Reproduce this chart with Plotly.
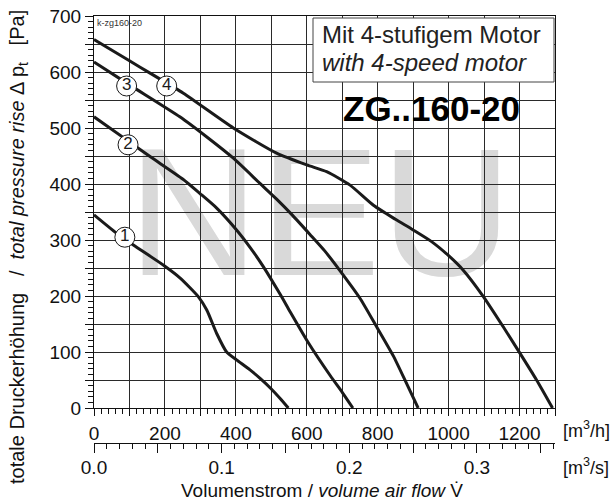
import plotly.graph_objects as go

# ---------------- data ----------------
flow_1 = [0, 64, 111, 198, 243, 294, 318, 346, 374, 402, 440, 470, 500, 525, 548]
press_1 = [345, 312, 291, 254, 232, 199, 175, 133, 100, 86, 68, 52, 34, 17, 0]

flow_2 = [0, 96, 158, 250, 299, 346, 402, 440, 477, 525, 553, 604, 666, 700, 730]
press_2 = [520, 477, 449, 409, 383, 357, 318, 287, 253, 203, 172, 117, 58, 28, 0]

flow_3 = [0, 100, 242, 320, 393, 468, 515, 560, 609, 650, 694, 750, 797, 844, 882, 914]
press_3 = [618, 577, 520, 483, 446, 401, 373, 344, 310, 281, 245, 196, 145, 93, 43, 0]

flow_4 = [0, 100, 158, 252, 393, 515, 600, 656, 722, 788, 850, 900, 950, 1000, 1040,
          1098, 1154, 1201, 1248, 1293]
press_4 = [658, 620, 598, 562, 500, 455, 434, 422, 398, 362, 337, 318, 298, 272, 247,
           199, 145, 98, 50, 0]

curve_names = ["1", "2", "3", "4"]
label_flow = [87, 96, 92, 205]
label_press = [305, 470, 575, 575]

x_tickvals = list(range(0, 1301, 100))
x_ticktext = [str(v) if v % 200 == 0 and v <= 1200 else "" for v in x_tickvals]
y_tickvals = list(range(0, 701, 50))
y_ticktext = [str(v) if v % 100 == 0 else "" for v in y_tickvals]
x2_tickvals = [0.0, 0.05, 0.1, 0.15, 0.2, 0.25, 0.3, 0.35]
x2_ticktext = ["0.0", "", "0.1", "", "0.2", "", "0.3", ""]

X_MAX = 1300
Y_MAX = 700

# ---------------- layout geometry ----------------
W, H = 613, 502
L, R, T, B = 94, 58, 16, 0
PW, PH = W - L - R, H - T - B


def px(xp):
    return (xp - L) / PW


def py(yp):
    return (H - B - yp) / PH


FONT = "Liberation Sans, Arial, sans-serif"
INK = "#1a1a1a"

fig = go.Figure()

for fx, fy in [(flow_1, press_1), (flow_2, press_2), (flow_3, press_3), (flow_4, press_4)]:
    fig.add_trace(go.Scatter(
        x=fx, y=fy, mode="lines",
        line=dict(color=INK, width=3, shape="spline", smoothing=0.6),
        hoverinfo="skip", showlegend=False))

fig.add_trace(go.Scatter(
    x=label_flow, y=label_press, mode="markers+text",
    marker=dict(size=20, color="white", line=dict(color=INK, width=1)),
    text=curve_names, textposition="middle center",
    textfont=dict(family=FONT, size=17, color=INK),
    hoverinfo="skip", showlegend=False))

# dummy trace so that the m3/s axis exists
fig.add_trace(go.Scatter(x=[], y=[], xaxis="x2", yaxis="y", showlegend=False,
                         hoverinfo="skip"))

fig.update_layout(
    width=W, height=H,
    margin=dict(l=L, r=R, t=T, b=B, pad=0, autoexpand=False),
    paper_bgcolor="white", plot_bgcolor="rgba(0,0,0,0)",
    showlegend=False,
    font=dict(family=FONT, color="#111"),
    xaxis=dict(
        range=[0, X_MAX], domain=[0, 1], anchor="y", automargin=False,
        tickmode="array", tickvals=x_tickvals, ticktext=x_ticktext,
        ticks="outside", ticklen=7, tickwidth=1, tickcolor="#111",
        ticklabelstandoff=1,
        tickfont=dict(size=19, color="#111"),
        showgrid=True, gridcolor="#2a2a2a", gridwidth=1,
        showline=True, linecolor="#111", linewidth=1, mirror=True,
        zeroline=False,
        minor=dict(dtick=20, ticks="outside", ticklen=5, tickcolor="#111",
                   showgrid=False),
    ),
    xaxis2=dict(
        range=[0, X_MAX / 3600], domain=[0, 1], anchor="free", automargin=False,
        overlaying="x", side="bottom", position=py(443),
        tickmode="array", tickvals=x2_tickvals, ticktext=x2_ticktext,
        ticks="outside", ticklen=9, tickwidth=1, tickcolor="#111",
        ticklabelstandoff=-2,
        tickfont=dict(size=19, color="#111"),
        showgrid=False, showline=True, linecolor="#111", linewidth=1,
        zeroline=False,
        minor=dict(dtick=0.01, ticks="outside", ticklen=5, tickcolor="#111",
                   showgrid=False),
    ),
    yaxis=dict(
        range=[0, Y_MAX], domain=[py(408), 1], automargin=False,
        tickmode="array", tickvals=y_tickvals, ticktext=y_ticktext,
        ticks="outside", ticklen=8, tickwidth=1, tickcolor="#111",
        tickfont=dict(size=19, color="#111"),
        showgrid=True, gridcolor="#2a2a2a", gridwidth=1,
        showline=True, linecolor="#111", linewidth=1, mirror=True,
        zeroline=False,
        minor=dict(dtick=10, ticks="outside", ticklen=5, tickcolor="#111",
                   showgrid=False),
    ),
)

# watermark "NEU" below the grid
fig.add_shape(
    type="rect", xref="paper", yref="paper",
    x0=px(143), x1=px(497), y0=py(260), y1=py(130),
    line=dict(width=0), fillcolor="rgba(0,0,0,0)", layer="below",
    label=dict(text="NEU", textposition="middle center",
               font=dict(family=FONT, size=182, color="#d9d9d9")),
)

# motor info box
fig.add_shape(
    type="rect", xref="paper", yref="paper",
    x0=px(313), x1=px(554), y0=py(82), y1=py(18),
    line=dict(color="#444", width=1), fillcolor="white", layer="above",
)

ann = [
    dict(text="k-zg160-20", x=px(95), y=py(23), xanchor="left", yanchor="middle",
         font=dict(size=9, color="#333")),
    dict(text="Mit 4-stufigem Motor", x=px(320), y=py(35), xanchor="left",
         yanchor="middle", font=dict(size=24, color="#222")),
    dict(text="<i>with 4-speed motor</i>", x=px(320), y=py(63), xanchor="left",
         yanchor="middle", font=dict(size=24, color="#222")),
    dict(text="<b>ZG..160-20</b>", x=px(431), y=py(108), xanchor="center",
         yanchor="middle", font=dict(size=35, color="#000")),
    dict(text="[m<sup>3</sup>/h]", x=px(561), y=py(429), xanchor="left",
         yanchor="middle", font=dict(size=18, color="#111")),
    dict(text="[m<sup>3</sup>/s]", x=px(561), y=py(466), xanchor="left",
         yanchor="middle", font=dict(size=18, color="#111")),
    dict(text="Volumenstrom / <i>volume air flow</i> V\u0307", x=px(322), y=py(490),
         xanchor="center", yanchor="middle", font=dict(size=19, color="#111")),
    dict(text="totale Druckerhöhung   /  <i>total pressure rise</i> \u0394 p<sub>t</sub>   [Pa]",
         x=px(18), y=py(247), xanchor="center", yanchor="middle", textangle=-90,
         font=dict(size=20, color="#111")),
]
for a in ann:
    fig.add_annotation(xref="paper", yref="paper", showarrow=False, **a)

fig.write_html("out.html", config={"displayModeBar": False},
               post_script="document.body.style.margin='0';")
